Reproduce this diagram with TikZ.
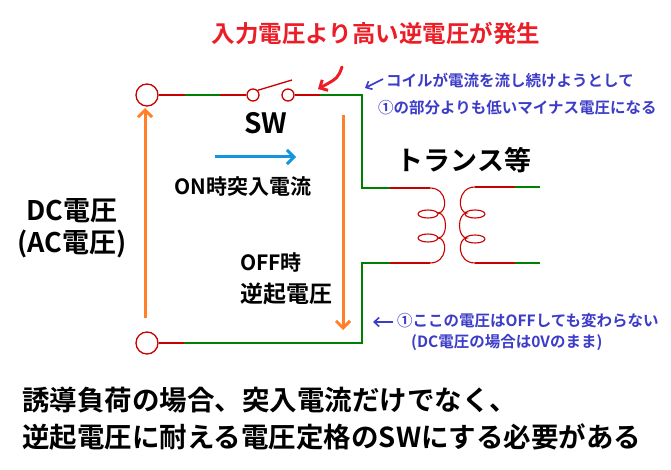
\documentclass[tikz,border=0pt]{standalone}
\usepackage{fontspec}
\setmainfont{Noto Sans CJK JP}[BoldFont={* Bold}]
\usetikzlibrary{arrows.meta}
\definecolor{wred}{RGB}{200,0,0}
\definecolor{wgreen}{RGB}{0,128,0}
\definecolor{orng}{RGB}{255,128,40}
\definecolor{bluet}{RGB}{60,60,200}
\definecolor{cyanA}{RGB}{20,150,220}
\definecolor{tred}{RGB}{235,30,40}
\begin{document}
\begin{tikzpicture}[x=1pt,y=-1pt,
  rw/.style={wred,line width=1.3pt},
  gw/.style={wgreen,line width=1.3pt},
  term/.style={circle,draw=wred,line width=1.3pt,inner sep=0pt,minimum size=#1},
  big/.style={orng,line width=3pt,-{Straight Barb[length=7pt,width=14pt]}},
  txt/.style={font=\bfseries,inner sep=0pt},
  bnote/.style={font=\bfseries\fontsize{15.5}{17}\selectfont,text=bluet,inner sep=0pt,anchor=west},
  barr/.style={bluet,line width=1.6pt,-{Straight Barb[length=5pt,width=9pt]}}]
\useasboundingbox (0,0) rectangle (671,470);
% terminals
\node[term=22pt] (t1) at (147,95) {};
\node[term=22pt] (t2) at (147,343) {};
\node[term=12pt] (s1) at (253,95) {};
\node[term=12pt] (s2) at (288,95) {};
% top wire
\draw[rw] (t1.east) -- (185,95);
\draw[gw] (185,95) -- (220,95);
\draw[rw] (220,95) -- (s1.west);
\draw[rw] (s1.north east) -- (292,80);
\draw[rw] (s2.east) -- (320,95);
\draw[gw] (320,95) -- (362,95) -- (362,188) -- (390,188);
\draw[rw] (390,188) -- (430,188);
% bottom wire
\draw[rw] (t2.east) -- (184,343);
\draw[gw] (184,343) -- (362,343) -- (362,263) -- (390,263);
\draw[rw] (390,263) -- (430,263);
% primary coil
\draw[rw,line width=1.1pt] (430,188) .. controls (448,188) and (448,213) .. (438,213)
  .. controls (448,213) and (448,238) .. (438,238)
  .. controls (448,238) and (448,263) .. (430,263);
\draw[rw,line width=1.1pt] (428,214) ellipse (10 and 4);
\draw[rw,line width=1.1pt] (428,238) ellipse (10 and 4);
% secondary coil
\draw[gw] (540,187) -- (515,187);
\draw[rw] (515,187) -- (475,187);
\draw[gw] (540,263) -- (515,263);
\draw[rw] (515,263) -- (475,263);
\draw[rw,line width=1.1pt] (475,187) .. controls (457,187) and (457,213) .. (467,213)
  .. controls (457,213) and (457,238) .. (467,238)
  .. controls (457,238) and (457,263) .. (475,263);
\draw[rw,line width=1.1pt] (475,214) ellipse (10 and 4);
\draw[rw,line width=1.1pt] (475,239) ellipse (10 and 4);
% arrows
\coordinate (la0) at (145,318); \coordinate (la1) at (145,108);
\draw[big] (la0) -- (la1);
\coordinate (ra0) at (343,115); \coordinate (ra1) at (343,330);
\draw[big] (ra0) -- (ra1);
\coordinate (ca0) at (215,157); \coordinate (ca1) at (296,157);
\draw[cyanA,line width=3pt,-{Straight Barb[length=7pt,width=14pt]}] (ca0) -- (ca1);
\coordinate (rr0) at (342,67); \coordinate (rr1) at (318,89);
\draw[tred,line width=3pt,line cap=round,-{Straight Barb[length=6pt,width=12pt]}] (rr0) .. controls (338,78) .. (rr1);
\coordinate (b10) at (383,79); \coordinate (b11) at (365,88);
\draw[barr] (b10) -- (b11);
\coordinate (b20) at (393,322); \coordinate (b21) at (373,322);
\draw[barr] (b20) -- (b21);
% texts
\node[txt,text=tred,font=\bfseries\fontsize{23.5}{26}\selectfont] (title) at (376,33) {入力電圧より高い逆電圧が発生};
\node[txt,font=\bfseries\fontsize{28}{30}\selectfont] (sw) at (266,123) {SW};
\node[txt,font=\bfseries\fontsize{27}{30}\selectfont] (tr) at (464,160) {トランス等};
\node[txt,font=\bfseries\fontsize{21}{24}\selectfont] (on) at (243,187) {ON時突入電流};
\node[txt,font=\bfseries\fontsize{27}{30}\selectfont] (dc) at (72,211) {DC電圧};
\node[txt,font=\bfseries\fontsize{27}{30}\selectfont] (ac) at (72,244) {(AC電圧)};
\node[txt,anchor=west,font=\bfseries\fontsize{21}{24}\selectfont] (off) at (240,262) {OFF時};
\node[txt,anchor=west,font=\bfseries\fontsize{23}{26}\selectfont] (gk) at (240,294) {逆起電圧};
\node[bnote] (n1) at (386,80) {コイルが電流を流し続けようとして};
\node[bnote] (n2) at (378,108) {①の部分よりも低いマイナス電圧になる};
\node[bnote] (n3) at (397,321) {①ここの電圧はOFFしても変わらない};
\node[bnote] (n4) at (411,342) {(DC電圧の場合は0Vのまま)};
\node[txt,anchor=west,font=\bfseries\fontsize{27.5}{30}\selectfont] (l1) at (22,400) {誘導負荷の場合、突入電流だけでなく、};
\node[txt,anchor=west,font=\bfseries\fontsize{27.5}{30}\selectfont] (l2) at (22,437) {逆起電圧に耐える電圧定格のSWにする必要がある};
\end{tikzpicture}
\end{document}
